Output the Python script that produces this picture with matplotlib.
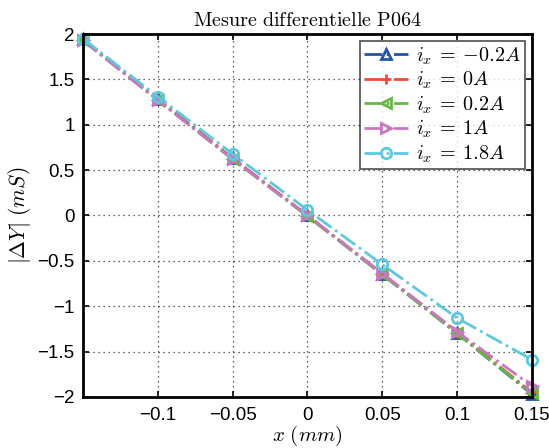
import matplotlib
matplotlib.use("Agg")
import matplotlib.pyplot as plt

x = [-0.15, -0.1, -0.05, 0.0, 0.05, 0.1, 0.15]
y_m02 = [1.94, 1.28, 0.63, 0.00, -0.65, -1.30, -1.97]
y_0 = [1.94, 1.28, 0.63, 0.00, -0.64, -1.29, -1.95]
y_02 = [1.93, 1.27, 0.62, -0.01, -0.65, -1.30, -1.96]
y_1 = [1.93, 1.27, 0.62, 0.00, -0.64, -1.28, -1.88]
y_18 = [1.95, 1.31, 0.68, 0.06, -0.54, -1.13, -1.59]
labels = [r'$i_x\:=\:{-0.2A}$', r'$i_x\:=\:0A$', r'$i_x\:=\:0.2A$', r'$i_x\:=\:1A$', r'$i_x\:=\:1.8A$']
xticks = [-0.1, -0.05, 0, 0.05, 0.1, 0.15]
xticklabels = ['\u22120.1', '\u22120.05', '0', '0.05', '0.1', '0.15']
yticks = [-2, -1.5, -1, -0.5, 0, 0.5, 1, 1.5, 2]
yticklabels = ['\u22122', '\u22121.5', '\u22121', '\u22120.5', '0', '0.5', '1', '1.5', '2']

plt.rcParams['mathtext.fontset'] = 'cm'
plt.rcParams['font.family'] = ['Liberation Sans', 'DejaVu Sans']

fig = plt.figure(figsize=(5.49, 4.48), dpi=100)
ax = fig.add_axes([0.151, 0.114, 0.818, 0.810])

series = [y_m02, y_0, y_02, y_1, y_18]
colors = ['#2255a8', '#f04a3a', '#66b844', '#c878c0', '#5ec8dc']
markers = ['^', '+', '<', '>', 'o']
for ys, c, m, lab in zip(series, colors, markers, labels):
    ax.plot(x, ys, linestyle='-.', color=c, lw=2, marker=m, ms=7.5,
            mfc='none', mec=c, mew=2, label=lab, clip_on=False)

ax.set_xlim(-0.15, 0.15)
ax.set_ylim(-2, 2)
ax.set_xticks(xticks)
ax.set_xticklabels(xticklabels)
ax.set_yticks(yticks)
ax.set_yticklabels(yticklabels)
ax.tick_params(labelsize=13.5, direction='in', length=4, width=1.2, top=True, right=True)
ax.tick_params(axis='x', pad=7)
ax.tick_params(axis='y', pad=6)
ax.grid(True, linestyle=(0, (1, 3)), color='#333333', lw=0.9)
for s in ax.spines.values():
    s.set_linewidth(2)

ax.set_title(r'$\mathrm{Mesure\ differentielle\ P064}$', fontsize=14.5, pad=6)
ax.set_xlabel(r'$x\ (mm)$', fontsize=15, labelpad=0)
ax.set_ylabel(r'$|\Delta Y|\ (mS)$', fontsize=15.5, labelpad=3)

leg = ax.legend(loc='upper right', fontsize=14.5, frameon=True, fancybox=False,
                edgecolor='#222222', handlelength=2.2, borderpad=0.2,
                labelspacing=0.16, handletextpad=0.4, borderaxespad=0.35)
leg.get_frame().set_linewidth(1.2)

fig.savefig('out.png', dpi=100)
